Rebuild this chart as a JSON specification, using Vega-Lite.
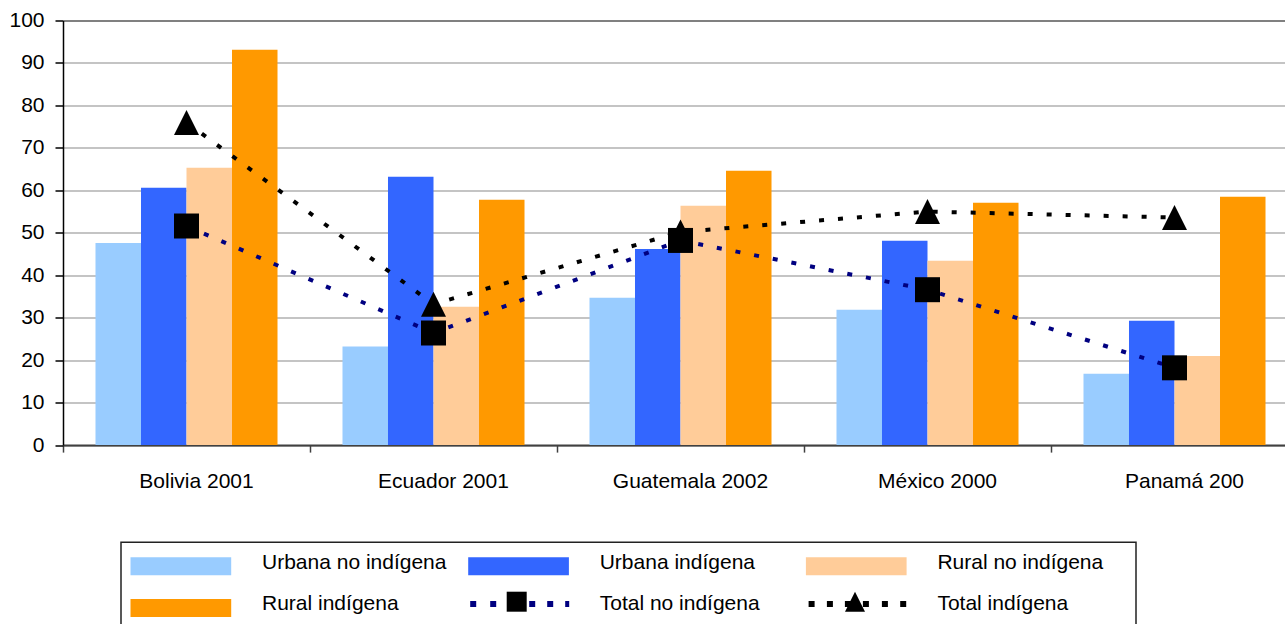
{
  "$schema": "https://vega.github.io/schema/vega-lite/v6.json",
  "width": 1222,
  "height": 424.6,
  "autosize": {"type": "none"},
  "padding": {"left": 63, "top": 20.5, "right": 0, "bottom": 178.9},
  "background": "white",
  "config": {"font": "Liberation Sans", "view": {"stroke": null}},
  "data": {
    "values": [
      {"pais": "Bolivia 2001", "serie": "Urbana no indígena", "valor": 47.6},
      {"pais": "Bolivia 2001", "serie": "Urbana indígena", "valor": 60.6},
      {"pais": "Bolivia 2001", "serie": "Rural no indígena", "valor": 65.3},
      {"pais": "Bolivia 2001", "serie": "Rural indígena", "valor": 93.1},
      {"pais": "Bolivia 2001", "serie": "Total no indígena", "valor": 51.6},
      {"pais": "Bolivia 2001", "serie": "Total indígena", "valor": 76.0},
      {"pais": "Ecuador 2001", "serie": "Urbana no indígena", "valor": 23.2},
      {"pais": "Ecuador 2001", "serie": "Urbana indígena", "valor": 63.2},
      {"pais": "Ecuador 2001", "serie": "Rural no indígena", "valor": 32.6},
      {"pais": "Ecuador 2001", "serie": "Rural indígena", "valor": 57.8},
      {"pais": "Ecuador 2001", "serie": "Total no indígena", "valor": 26.4},
      {"pais": "Ecuador 2001", "serie": "Total indígena", "valor": 33.2},
      {"pais": "Guatemala 2002", "serie": "Urbana no indígena", "valor": 34.7},
      {"pais": "Guatemala 2002", "serie": "Urbana indígena", "valor": 46.2},
      {"pais": "Guatemala 2002", "serie": "Rural no indígena", "valor": 56.4},
      {"pais": "Guatemala 2002", "serie": "Rural indígena", "valor": 64.6},
      {"pais": "Guatemala 2002", "serie": "Total no indígena", "valor": 48.2},
      {"pais": "Guatemala 2002", "serie": "Total indígena", "valor": 50.2},
      {"pais": "México 2000", "serie": "Urbana no indígena", "valor": 31.9},
      {"pais": "México 2000", "serie": "Urbana indígena", "valor": 48.1},
      {"pais": "México 2000", "serie": "Rural no indígena", "valor": 43.4},
      {"pais": "México 2000", "serie": "Rural indígena", "valor": 57.1},
      {"pais": "México 2000", "serie": "Total no indígena", "valor": 36.6},
      {"pais": "México 2000", "serie": "Total indígena", "valor": 55.0},
      {"pais": "Panamá 200", "serie": "Urbana no indígena", "valor": 16.8},
      {"pais": "Panamá 200", "serie": "Urbana indígena", "valor": 29.3},
      {"pais": "Panamá 200", "serie": "Rural no indígena", "valor": 21.0},
      {"pais": "Panamá 200", "serie": "Rural indígena", "valor": 58.5},
      {"pais": "Panamá 200", "serie": "Total no indígena", "valor": 18.2},
      {"pais": "Panamá 200", "serie": "Total indígena", "valor": 53.6}
    ]
  },
  "encoding": {
    "x": {
      "field": "pais",
      "type": "nominal",
      "scale": {
        "domain": ["Bolivia 2001", "Ecuador 2001", "Guatemala 2002", "México 2000", "Panamá 200"],
        "range": [0, 1235],
        "paddingInner": 0,
        "paddingOuter": 0
      },
      "axis": {
        "title": null,
        "bandPosition": 0,
        "labelOffset": 10,
        "labelAlign": "center",
        "labelAngle": 0,
        "labelBaseline": "top",
        "labelFont": "Liberation Sans",
        "labelFontSize": 21,
        "labelColor": "#000000",
        "labelPadding": 18,
        "labelOverlap": false,
        "tickSize": 7,
        "tickColor": "#404040",
        "tickWidth": 1.5,
        "domainColor": "#404040",
        "domainWidth": 2
      }
    },
    "y": {
      "field": "valor",
      "type": "quantitative",
      "scale": {"domain": [0, 100], "nice": false},
      "axis": {
        "title": null,
        "values": [0, 10, 20, 30, 40, 50, 60, 70, 80, 90, 100],
        "labelFont": "Liberation Sans",
        "labelFontSize": 21,
        "labelColor": "#000000",
        "labelPadding": 11,
        "tickSize": 8,
        "tickColor": "#000000",
        "tickWidth": 1.5,
        "domainColor": "#000000",
        "domainWidth": 1.5,
        "grid": true,
        "gridColor": {"condition": {"test": "datum.value === 100", "value": "#808080"}, "value": "#c4c4c4"},
        "gridWidth": 2
      }
    }
  },
  "layer": [
    {
      "transform": [{"filter": {"field": "serie", "oneOf": ["Urbana no indígena", "Urbana indígena", "Rural no indígena", "Rural indígena"]}}],
      "mark": {"type": "bar"},
      "encoding": {
        "xOffset": {
          "field": "serie",
          "type": "nominal",
          "scale": {"domain": ["Urbana no indígena", "Urbana indígena", "Rural no indígena", "Rural indígena"], "paddingInner": 0, "paddingOuter": 0.714}
        },
        "color": {
          "field": "serie",
          "type": "nominal",
          "scale": {
            "domain": ["Urbana no indígena", "Urbana indígena", "Rural no indígena", "Rural indígena", "Total no indígena", "Total indígena"],
            "range": ["#99CCFF", "#3366FF", "#FFCC99", "#FF9900", "#000080", "#000000"]
          },
          "legend": {
            "orient": "none",
            "legendX": 58,
            "legendY": 521.7,
            "direction": "horizontal",
            "columns": 3,
            "title": null,
            "padding": 10,
            "gridAlign": "all",
            "symbolSize": 400,
            "symbolStrokeWidth": 0,
            "labelFont": "Liberation Sans",
            "labelFontSize": 21,
            "labelColor": "#000000",
            "labelOffset": 110,
            "labelLimit": 400,
            "columnPadding": 16.7,
            "rowPadding": 17.7,
            "encode": {
              "symbols": {
                "update": {
                  "shape": {"signal": "datum.value == 'Total no indígena' ? 'M-1.1,0 M-0.9,-0.35H-0.3V0.25H-0.9Z M1.1,-0.35H1.7V0.25H1.1Z M5,-0.35H5.6V0.25H5Z M6.8,-0.35H7.4V0.25H6.8Z M8.6,-0.35H9V0.25H8.6Z M30.9,0' : datum.value == 'Total indígena' ? 'M-1.1,0 M-0.83,-0.35H-0.23V0.25H-0.83Z M1,-0.35H1.6V0.25H1Z M2.8,-0.35H3.4V0.25H2.8Z M4.6,-0.35H5.2V0.25H4.6Z M6.5,-0.35H7.1V0.25H6.5Z M8.33,-0.35H8.93V0.25H8.33Z M30.9,0' : 'M-1.1,-0.55H8.97V1.25H-1.1Z M30.9,0'"},
                  "fill": {"scale": "color", "field": "value"},
                  "stroke": {"value": "transparent"},
                  "strokeWidth": {"value": 0},
                  "opacity": {"value": 1},
                  "size": {"value": 400}
                }
              },
              "legend": {
                "update": {
                  "stroke": {"value": "#222222"},
                  "strokeWidth": {"value": 1.5},
                  "fill": {"value": "#ffffff"}
                }
              }
            }
          }
        }
      }
    },
    {
      "transform": [{"filter": {"field": "serie", "oneOf": ["Total no indígena", "Total indígena"]}}],
      "mark": {"type": "line", "interpolate": "linear", "strokeWidth": 4, "strokeDash": [5, 14], "strokeCap": "butt"},
      "encoding": {
        "color": {
          "field": "serie",
          "type": "nominal",
          "scale": {
            "domain": ["Urbana no indígena", "Urbana indígena", "Rural no indígena", "Rural indígena", "Total no indígena", "Total indígena"],
            "range": ["#99CCFF", "#3366FF", "#FFCC99", "#FF9900", "#000080", "#000000"]
          }
        }
      }
    },
    {
      "transform": [{"filter": {"field": "serie", "oneOf": ["Total no indígena", "Total indígena"]}}],
      "mark": {"type": "point", "filled": true, "color": "#000000", "size": 625, "opacity": 1},
      "encoding": {
        "shape": {
          "field": "serie",
          "type": "nominal",
          "scale": {
            "domain": ["Total no indígena", "Total indígena"],
            "range": ["M-1,-1H1V1H-1Z", "M-1,1L0,-1L1,1Z"]
          },
          "legend": {
            "orient": "none",
            "legendX": 443.7,
            "legendY": 571.2,
            "direction": "horizontal",
            "columns": 2,
            "title": null,
            "padding": 0,
            "symbolSize": 400,
            "symbolStrokeWidth": 0,
            "labelExpr": "''",
            "labelFontSize": 1,
            "labelOffset": 0,
            "columnPadding": 318.3,
            "encode": {
              "symbols": {
                "update": {
                  "fill": {"value": "#000000"},
                  "stroke": {"value": "transparent"},
                  "strokeWidth": {"value": 0},
                  "opacity": {"value": 1},
                  "size": {"value": 400}
                }
              }
            }
          }
        }
      }
    }
  ]
}
